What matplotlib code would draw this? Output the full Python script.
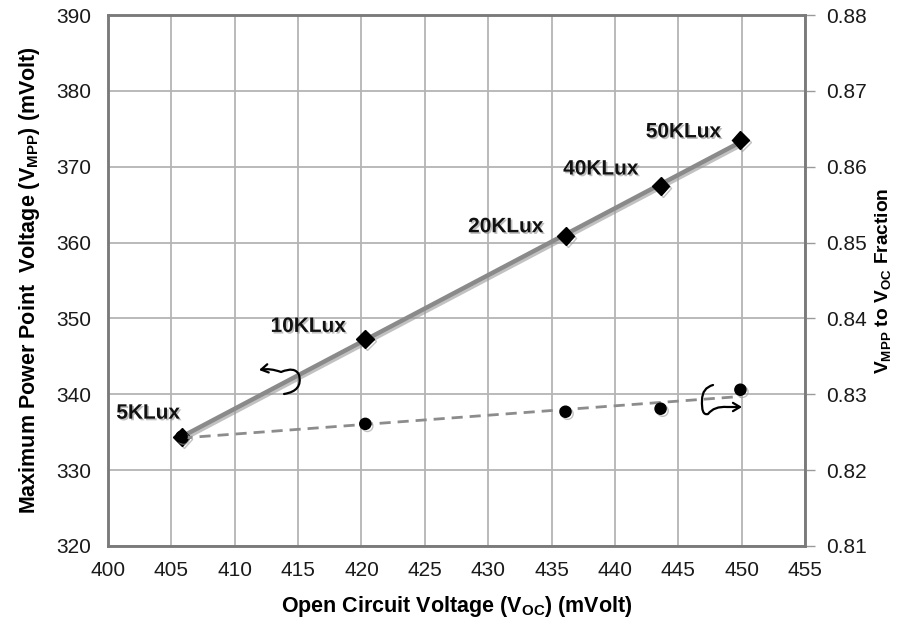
import numpy as np
import matplotlib
matplotlib.use("Agg")
import matplotlib.pyplot as plt
import matplotlib.patheffects as pe
from matplotlib.path import Path
from matplotlib.patches import FancyArrowPatch

# Measured operating points at different illumination levels
lux_labels = ["5KLux", "10KLux", "20KLux", "40KLux", "50KLux"]
voc = [405.8, 420.3, 436.1, 443.6, 449.9]          # open circuit voltage (mV)
vmpp = [334.4, 347.3, 360.9, 367.5, 373.5]         # max power point voltage (mV)
fraction = [0.8244, 0.8261, 0.8277, 0.8281, 0.8306]  # Vmpp / Voc

x_ticks = list(range(400, 456, 5))
y_ticks = list(range(320, 391, 10))
y2_ticks = [0.81, 0.82, 0.83, 0.84, 0.85, 0.86, 0.87, 0.88]

plt.rcParams["font.family"] = ["Liberation Sans", "DejaVu Sans"]
plt.rcParams["mathtext.fontset"] = "custom"
plt.rcParams["mathtext.rm"] = "Liberation Sans"
plt.rcParams["mathtext.bf"] = "Liberation Sans:bold"

fig = plt.figure(figsize=(9.01, 6.21), dpi=100)
ax = fig.add_axes([0.1199, 0.1208, 0.7736, 0.8550])
ax2 = ax.twinx()

line_shadow = [pe.SimpleLineShadow(offset=(1.5, -1.5), shadow_color="0.6", alpha=0.6), pe.Normal()]

# Linear trend lines
xs = np.array([voc[0], voc[-1]])
p1 = np.polyfit(voc, vmpp, 1)
p2 = np.polyfit(voc, fraction, 1)
ax.plot(xs, np.polyval(p1, xs), color="#8a8a8a", lw=3.2, solid_capstyle="butt",
        zorder=3, path_effects=line_shadow)
ax2.plot(xs, np.polyval(p2, xs), color="#8c8c8c", lw=2.0, ls=(0, (4, 2.5)), zorder=3)

# Data markers
ax.plot(voc, vmpp, ls="none", marker="D", ms=9, color="black", zorder=4,
        path_effects=line_shadow)
ax2.plot(voc, fraction, ls="none", marker="o", ms=8, color="black", zorder=4,
         path_effects=line_shadow)

# Illumination labels
offsets = [(-24, 17), (-41, 9), (-43, 6.5), (-43, 12), (-41, 6)]
for lab, x, y, off in zip(lux_labels, voc, vmpp, offsets):
    ax.annotate(lab, xy=(x, y), xytext=off, textcoords="offset points",
                ha="center", va="center", fontsize=15, fontweight="bold",
                color="#111111", zorder=5,
                path_effects=[pe.withSimplePatchShadow(offset=(1.2, -1.2),
                                                       shadow_rgbFace="0.5", alpha=0.5)])

# Axes ranges and ticks
ax.set_xlim(400, 455)
ax.set_ylim(320, 390)
ax2.set_ylim(0.81, 0.88)
ax.set_xticks(x_ticks)
ax.set_yticks(y_ticks)
ax2.set_yticks(y2_ticks)
ax2.set_yticklabels([f"{v:.2f}" for v in y2_ticks])

ax.grid(True, color="#b4b4b4", lw=1.3)
ax.set_axisbelow(True)
for a in (ax, ax2):
    for s in a.spines.values():
        s.set_color("#7a7a7a")
        s.set_linewidth(1.8)
ax.tick_params(axis="both", labelsize=15, colors="#7a7a7a", labelcolor="#1a1a1a",
               length=0, pad=12)
ax.tick_params(axis="x", pad=11)
ax2.tick_params(axis="y", labelsize=15, colors="#9a9a9a", labelcolor="#1a1a1a",
                length=7, width=1, pad=8)

ax.set_xlabel(r"Open Circuit Voltage (V$_{\mathbf{OC}}$) (mVolt)", fontsize=15.5,
              fontweight="bold", labelpad=10)
ax.set_ylabel(r"Maximum Power Point  Voltage (V$_{\mathbf{MPP}}$) (mVolt)", fontsize=15.5,
              fontweight="bold", labelpad=10)
ax2.set_ylabel(r"V$_{\mathbf{MPP}}$ to V$_{\mathbf{OC}}$ Fraction", fontsize=13.8,
               fontweight="bold")
ax2.yaxis.set_label_coords(1.099, 0.5)

# Hand-drawn style axis indicators (axes-fraction coordinates)
def to_axes(px, py):
    return ((px - 108) / 697.0, (546 - py) / 531.0)

left_pts = [to_axes(*p) for p in [(284, 394), (303, 391), (299, 375),
                                  (295, 366), (281, 372), (270, 368), (259, 370)]]
left_path = Path(left_pts, [Path.MOVETO, Path.CURVE3, Path.CURVE3,
                            Path.CURVE3, Path.CURVE3, Path.CURVE3, Path.CURVE3])
ax.add_patch(FancyArrowPatch(path=left_path, transform=ax.transAxes,
                             arrowstyle="->,head_length=5,head_width=3",
                             color="black", lw=1.6, zorder=6, clip_on=False))

right_pts = [to_axes(*p) for p in [(713, 385), (702, 388), (702, 400),
                                   (701, 416), (708, 414), (714, 406), (727, 407), (742, 407)]]
right_path = Path(right_pts, [Path.MOVETO, Path.CURVE3, Path.CURVE3,
                              Path.CURVE3, Path.CURVE3, Path.CURVE3, Path.CURVE3, Path.LINETO])
ax.add_patch(FancyArrowPatch(path=right_path, transform=ax.transAxes,
                             arrowstyle="->,head_length=5,head_width=3",
                             color="black", lw=1.6, zorder=6, clip_on=False))

fig.savefig("out.png", dpi=100)
